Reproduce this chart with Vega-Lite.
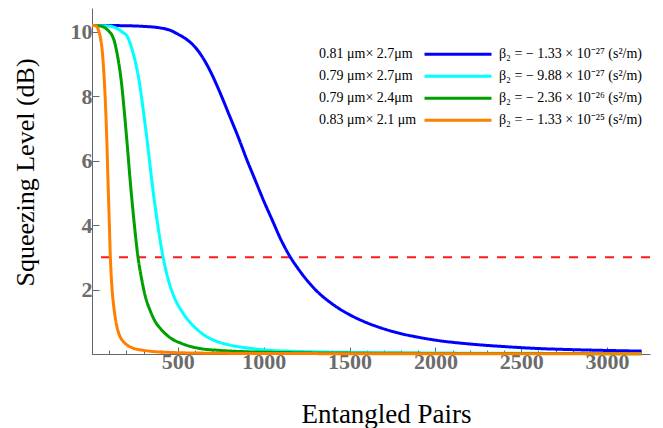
{
  "$schema": "https://vega.github.io/schema/vega-lite/v6.json",
  "width": 558,
  "height": 346,
  "autosize": "none",
  "padding": {"left": 92, "top": 8, "right": 13, "bottom": 74},
  "background": "white",
  "config": {"view": {"stroke": null}},
  "datasets": {
    "series": [
      {"k": "A", "size": "0.81 μm× 2.7μm", "beta": "β₂ = − 1.33 × 10⁻²⁷  (s²/m)"},
      {"k": "B", "size": "0.79 μm× 2.7μm", "beta": "β₂ = − 9.88 × 10⁻²⁷  (s²/m)"},
      {"k": "C", "size": "0.79 μm× 2.4μm", "beta": "β₂ = − 2.36 × 10⁻²⁶  (s²/m)"},
      {"k": "D", "size": "0.83 μm× 2.1 μm", "beta": "β₂ = − 1.33 × 10⁻²⁵  (s²/m)"}
    ],
    "curves": [
      {"k": "A", "x": 0, "y": 10.19}, {"k": "A", "x": 200, "y": 10.18}, {"k": "A", "x": 300, "y": 10.16},
      {"k": "A", "x": 400, "y": 10.11}, {"k": "A", "x": 450, "y": 10.05}, {"k": "A", "x": 500, "y": 9.92},
      {"k": "A", "x": 550, "y": 9.76}, {"k": "A", "x": 600, "y": 9.52}, {"k": "A", "x": 650, "y": 9.15},
      {"k": "A", "x": 700, "y": 8.65}, {"k": "A", "x": 750, "y": 8.05}, {"k": "A", "x": 800, "y": 7.4},
      {"k": "A", "x": 850, "y": 6.75}, {"k": "A", "x": 900, "y": 6.05}, {"k": "A", "x": 950, "y": 5.4},
      {"k": "A", "x": 1000, "y": 4.75}, {"k": "A", "x": 1050, "y": 4.15}, {"k": "A", "x": 1100, "y": 3.55},
      {"k": "A", "x": 1150, "y": 3.05}, {"k": "A", "x": 1200, "y": 2.65}, {"k": "A", "x": 1250, "y": 2.3},
      {"k": "A", "x": 1300, "y": 2.0}, {"k": "A", "x": 1400, "y": 1.55}, {"k": "A", "x": 1500, "y": 1.22},
      {"k": "A", "x": 1600, "y": 0.97}, {"k": "A", "x": 1700, "y": 0.78}, {"k": "A", "x": 1800, "y": 0.63},
      {"k": "A", "x": 1900, "y": 0.52}, {"k": "A", "x": 2000, "y": 0.43}, {"k": "A", "x": 2200, "y": 0.31},
      {"k": "A", "x": 2400, "y": 0.23}, {"k": "A", "x": 2600, "y": 0.17}, {"k": "A", "x": 2800, "y": 0.135},
      {"k": "A", "x": 3000, "y": 0.11}, {"k": "A", "x": 3200, "y": 0.09},

      {"k": "B", "x": 0, "y": 10.19}, {"k": "B", "x": 100, "y": 10.17}, {"k": "B", "x": 150, "y": 10.08},
      {"k": "B", "x": 180, "y": 9.97}, {"k": "B", "x": 205, "y": 9.85}, {"k": "B", "x": 230, "y": 9.5},
      {"k": "B", "x": 255, "y": 9.0}, {"k": "B", "x": 275, "y": 8.45}, {"k": "B", "x": 300, "y": 7.5},
      {"k": "B", "x": 325, "y": 6.45}, {"k": "B", "x": 350, "y": 5.3}, {"k": "B", "x": 375, "y": 4.3},
      {"k": "B", "x": 400, "y": 3.42}, {"k": "B", "x": 425, "y": 2.72}, {"k": "B", "x": 450, "y": 2.2},
      {"k": "B", "x": 480, "y": 1.75}, {"k": "B", "x": 520, "y": 1.35}, {"k": "B", "x": 560, "y": 1.05},
      {"k": "B", "x": 600, "y": 0.82}, {"k": "B", "x": 650, "y": 0.6}, {"k": "B", "x": 700, "y": 0.45},
      {"k": "B", "x": 800, "y": 0.28}, {"k": "B", "x": 900, "y": 0.19}, {"k": "B", "x": 1000, "y": 0.13},
      {"k": "B", "x": 1200, "y": 0.08}, {"k": "B", "x": 1500, "y": 0.05}, {"k": "B", "x": 2000, "y": 0.03},
      {"k": "B", "x": 3200, "y": 0.015},

      {"k": "C", "x": 0, "y": 10.19}, {"k": "C", "x": 50, "y": 10.17}, {"k": "C", "x": 80, "y": 10.1},
      {"k": "C", "x": 100, "y": 10.0}, {"k": "C", "x": 116, "y": 9.89}, {"k": "C", "x": 130, "y": 9.7},
      {"k": "C", "x": 140, "y": 9.48}, {"k": "C", "x": 155, "y": 9.05}, {"k": "C", "x": 171, "y": 8.44},
      {"k": "C", "x": 190, "y": 7.41}, {"k": "C", "x": 205, "y": 6.5}, {"k": "C", "x": 223, "y": 5.34},
      {"k": "C", "x": 245, "y": 4.1}, {"k": "C", "x": 268, "y": 3.0}, {"k": "C", "x": 290, "y": 2.3},
      {"k": "C", "x": 310, "y": 1.8}, {"k": "C", "x": 340, "y": 1.33}, {"k": "C", "x": 369, "y": 1.0},
      {"k": "C", "x": 400, "y": 0.78}, {"k": "C", "x": 456, "y": 0.5}, {"k": "C", "x": 520, "y": 0.33},
      {"k": "C", "x": 619, "y": 0.18}, {"k": "C", "x": 750, "y": 0.11}, {"k": "C", "x": 900, "y": 0.07},
      {"k": "C", "x": 1200, "y": 0.04}, {"k": "C", "x": 1600, "y": 0.025}, {"k": "C", "x": 2400, "y": 0.015},
      {"k": "C", "x": 3200, "y": 0.01},

      {"k": "D", "x": 0, "y": 10.19}, {"k": "D", "x": 20, "y": 10.18}, {"k": "D", "x": 30, "y": 10.14},
      {"k": "D", "x": 40, "y": 10.0}, {"k": "D", "x": 50, "y": 9.78}, {"k": "D", "x": 58, "y": 9.48},
      {"k": "D", "x": 65, "y": 9.05}, {"k": "D", "x": 72, "y": 8.45}, {"k": "D", "x": 81, "y": 7.41},
      {"k": "D", "x": 87, "y": 6.5}, {"k": "D", "x": 93, "y": 5.4}, {"k": "D", "x": 100, "y": 4.2},
      {"k": "D", "x": 107, "y": 3.0}, {"k": "D", "x": 115, "y": 2.15}, {"k": "D", "x": 124, "y": 1.6},
      {"k": "D", "x": 132, "y": 1.25}, {"k": "D", "x": 145, "y": 0.85}, {"k": "D", "x": 160, "y": 0.58},
      {"k": "D", "x": 180, "y": 0.4}, {"k": "D", "x": 204, "y": 0.28}, {"k": "D", "x": 240, "y": 0.18},
      {"k": "D", "x": 291, "y": 0.12}, {"k": "D", "x": 350, "y": 0.08}, {"k": "D", "x": 450, "y": 0.05},
      {"k": "D", "x": 600, "y": 0.03}, {"k": "D", "x": 1000, "y": 0.015}, {"k": "D", "x": 2000, "y": 0.008},
      {"k": "D", "x": 3200, "y": 0.005}
    ],
    "threshold": [{"level": 3}]
  },
  "layer": [
    {
      "data": {"name": "threshold"},
      "mark": {"type": "rule", "color": "#ff1a1a", "strokeWidth": 2.2, "strokeDash": [9, 9]},
      "encoding": {"y": {"field": "level", "type": "quantitative"}}
    },
    {
      "data": {"name": "curves"},
      "transform": [
        {"lookup": "k", "from": {"data": {"name": "series"}, "key": "k", "fields": ["size", "beta"]}}
      ],
      "mark": {"type": "line", "strokeWidth": 3, "interpolate": "monotone"},
      "encoding": {
        "x": {
          "field": "x", "type": "quantitative",
          "scale": {"domain": [0, 3250], "nice": false},
          "axis": {
            "title": "Entangled Pairs",
            "values": [0,100,200,300,400,500,600,700,800,900,1000,1100,1200,1300,1400,1500,1600,1700,1800,1900,2000,2100,2200,2300,2400,2500,2600,2700,2800,2900,3000,3100,3200],
            "format": "d",
            "labelExpr": "datum.value % 500 === 0 && datum.value > 0 ? datum.label : ''",
            "tickSize": {"condition": {"test": "datum.value % 500 === 0", "value": -7}, "value": -4},
            "tickColor": "#666666", "domainColor": "#666666", "grid": false,
            "labelFont": "Liberation Serif", "labelFontWeight": "bold", "labelFontSize": 22,
            "labelColor": "#6b6b6b", "labelPadding": 4, "labelOverlap": false, "labelFlush": false,
            "titleFont": "Liberation Serif", "titleFontSize": 27, "titleFontWeight": "normal",
            "titleColor": "black", "titleX": 294, "titleY": 68, "titleBaseline": "alphabetic", "titleAlign": "center"
          }
        },
        "y": {
          "field": "y", "type": "quantitative",
          "scale": {"domain": [0, 10.73], "nice": false},
          "axis": {
            "title": "Squeezing Level (dB)",
            "values": [0,0.5,1,1.5,2,2.5,3,3.5,4,4.5,5,5.5,6,6.5,7,7.5,8,8.5,9,9.5,10,10.5],
            "labelExpr": "datum.value % 2 === 0 && datum.value > 0 ? datum.label : ''",
            "tickSize": {"condition": {"test": "datum.value % 2 === 0", "value": -7}, "value": -4},
            "tickColor": "#666666", "domainColor": "#666666", "grid": false,
            "labelFont": "Liberation Serif", "labelFontWeight": "bold", "labelFontSize": 22,
            "labelColor": "#6b6b6b", "labelPadding": 7, "labelOverlap": false, "labelFlush": false,
            "titleFont": "Liberation Serif", "titleFontSize": 26, "titleFontWeight": "normal",
            "titleColor": "black", "titleX": -59, "titleY": 164, "titleBaseline": "alphabetic", "titleAlign": "center", "titleAngle": -90
          }
        },
        "color": {
          "field": "beta", "type": "nominal",
          "scale": {
            "domain": ["β₂ = − 1.33 × 10⁻²⁷  (s²/m)", "β₂ = − 9.88 × 10⁻²⁷  (s²/m)", "β₂ = − 2.36 × 10⁻²⁶  (s²/m)", "β₂ = − 1.33 × 10⁻²⁵  (s²/m)"],
            "range": ["#0000ff", "#00ffff", "#00a000", "#ff8000"]
          },
          "legend": {
            "orient": "none", "legendX": 331, "legendY": 35.5, "title": null, "padding": 0,
            "symbolType": "stroke", "symbolSize": 4489, "symbolStrokeWidth": 3, "clipHeight": 21.5,
            "rowPadding": 0, "labelFont": "Liberation Serif", "labelFontSize": 14, "labelColor": "black",
            "labelLimit": 0, "labelOffset": 6
          }
        },
        "strokeDash": {
          "field": "size", "type": "nominal",
          "scale": {
            "domain": ["0.81 μm× 2.7μm", "0.79 μm× 2.7μm", "0.79 μm× 2.4μm", "0.83 μm× 2.1 μm"],
            "range": [[1, 0], [1, 0], [1, 0], [1, 0]]
          },
          "legend": {
            "orient": "none", "legendX": 213, "legendY": 35.5, "title": null, "padding": 0,
            "symbolType": "stroke", "symbolSize": 1, "symbolStrokeWidth": 0, "symbolOpacity": 0, "clipHeight": 21.5,
            "rowPadding": 0, "labelFont": "Liberation Serif", "labelFontSize": 14, "labelColor": "black",
            "labelLimit": 0, "labelOffset": 0
          }
        }
      }
    }
  ]
}
